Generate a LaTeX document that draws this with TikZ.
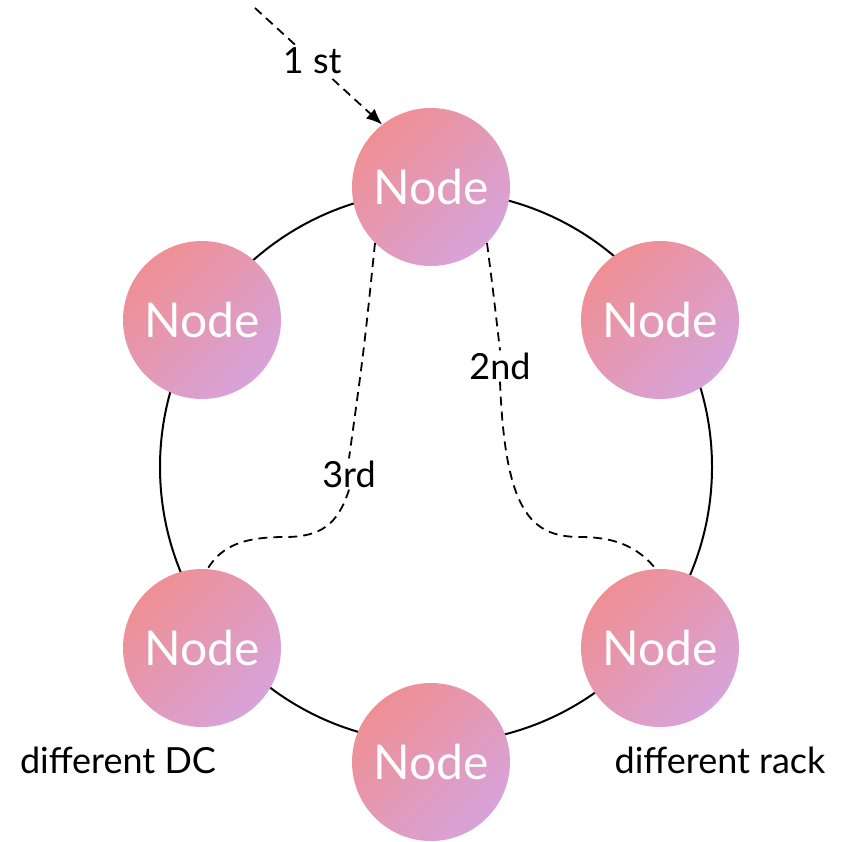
\documentclass[tikz,border=0pt]{standalone}
\usepackage{fontspec}
\setmainfont{Lato}
\usetikzlibrary{arrows.meta}
\definecolor{nodepink}{RGB}{239,143,148}
\definecolor{nodelilac}{RGB}{215,163,218}

\begin{document}
\begin{tikzpicture}[x=1pt, y=-1pt,
  ringnode/.style={circle, minimum size=158pt, inner sep=0pt, top color=nodepink,
    bottom color=nodelilac, shading angle=45, text=white, font=\fontsize{48}{52}\selectfont},
  hop/.style={dash pattern=on 9pt off 6pt, line width=1.8pt},
  tag/.style={font=\fontsize{36}{40}\selectfont, fill=white, inner sep=2pt}]
  \useasboundingbox (0,0) rectangle (841,842);

  % Ring
  \draw[line width=2pt] (436,467) circle[radius=276pt];

  % Replicas
  \node[ringnode] (top) at (431,187) {Node};
  \node[ringnode] (ul) at (202,320) {Node};
  \node[ringnode] (ur) at (660,320) {Node};
  \node[ringnode] (ll) at (202,648) {Node};
  \node[ringnode] (lr) at (660,648) {Node};
  \node[ringnode] (bot) at (431,762) {Node};

  % Placement order
  \coordinate (client) at (255,8);
  \draw[hop, -{Latex[length=16pt,width=13pt]}] (client) -- node[tag, pos=0.45] (first) {1 st} (top.128);

  \node[tag] (second) at (500,366) {2nd};
  \draw[hop] (top.-45) .. controls (493,290) .. (second.north);
  \draw[hop] (second.south) .. controls (505,510) and (530,537) .. (580,537)
    .. controls (620,537) and (640,550) .. (lr.93);

  \node[tag] (third) at (349,474) {3rd};
  \draw[hop] (top.-135) .. controls (364,350) .. (third.north);
  \draw[hop] (third.south) .. controls (338,525) and (320,537) .. (285,537)
    .. controls (245,537) and (222,545) .. (ll.86);

  \node[tag] (dc) at (118,760) {different DC};
  \node[tag] (rack) at (720,760) {different rack};
\end{tikzpicture}
\end{document}
